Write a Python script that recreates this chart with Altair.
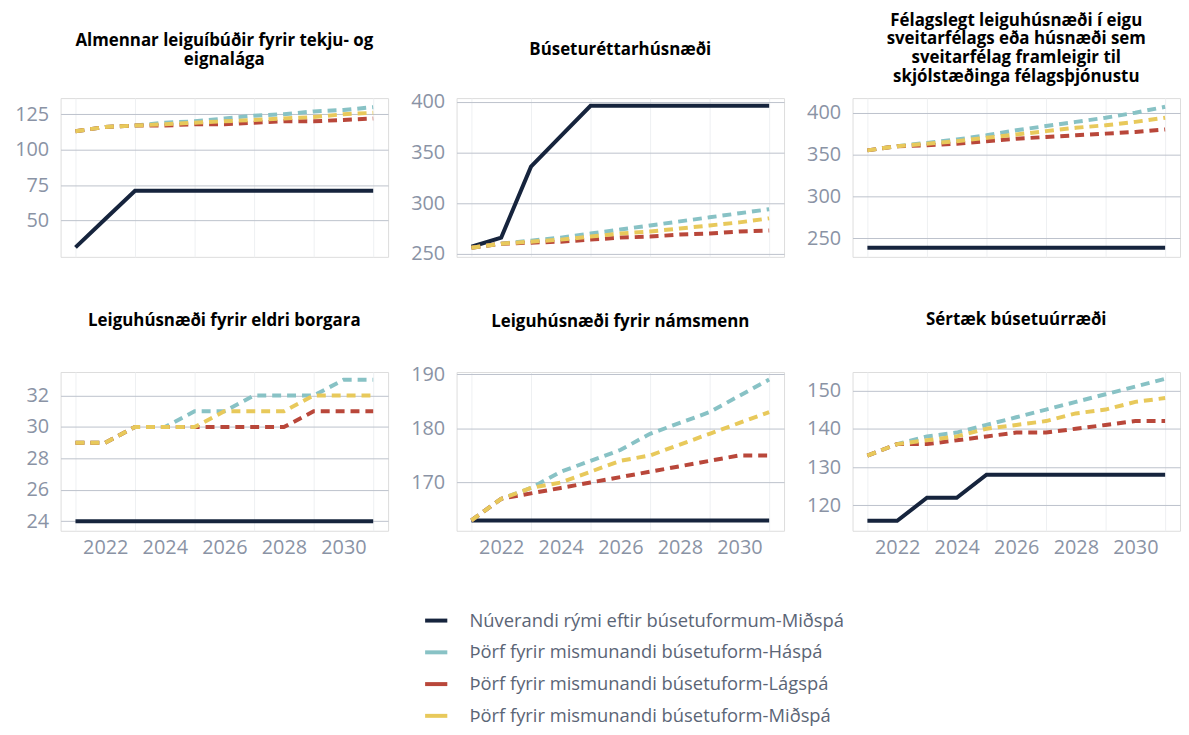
import altair as alt
import pandas as pd

years = list(range(2021, 2032))
series = [
    "Núverandi rými eftir búsetuformum-Miðspá",
    "Þörf fyrir mismunandi búsetuform-Háspá",
    "Þörf fyrir mismunandi búsetuform-Lágspá",
    "Þörf fyrir mismunandi búsetuform-Miðspá",
]
colors = ["#16243d", "#88c2c5", "#b9473a", "#e8c95b"]

titles = [
    ["Almennar leiguíbúðir fyrir tekju- og", "eignalága"],
    ["Búseturéttarhúsnæði"],
    ["Félagslegt leiguhúsnæði í eigu", "sveitarfélags eða húsnæði sem",
     "sveitarfélag framleigir til", "skjólstæðinga félagsþjónustu"],
    ["Leiguhúsnæði fyrir eldri borgara"],
    ["Leiguhúsnæði fyrir námsmenn"],
    ["Sértæk búsetuúrræði"],
]
title_offsets = [21, 25, 4, 34, 26, 34]

# Panel 1: Almennar leiguíbúðir
p1_nuverandi = [31, 51, 71, 71, 71, 71, 71, 71, 71, 71, 71]
p1_haspa = [113, 116, 117, 119, 120, 122, 124, 125, 127, 128, 130]
p1_lagspa = [113, 116, 117, 117, 118, 118, 119, 120, 120, 121, 122]
p1_midspa = [113, 116, 117, 118, 119, 120, 121, 122, 123, 125, 126]

# Panel 2: Búseturéttarhúsnæði
p2_nuverandi = [257, 266, 336, 366, 396, 396, 396, 396, 396, 396, 396]
p2_haspa = [256, 260, 263, 266, 270, 274, 278, 282, 286, 290, 294]
p2_lagspa = [256, 260, 261, 262, 264, 266, 267, 269, 270, 272, 273]
p2_midspa = [256, 260, 262, 264, 267, 270, 272, 275, 278, 281, 285]

# Panel 3: Félagslegt leiguhúsnæði
p3_nuverandi = [239, 239, 239, 239, 239, 239, 239, 239, 239, 239, 239]
p3_haspa = [355, 360, 364, 368, 373, 379, 384, 389, 394, 400, 407]
p3_lagspa = [355, 360, 361, 363, 366, 369, 371, 373, 375, 377, 380]
p3_midspa = [355, 360, 363, 366, 370, 374, 378, 382, 385, 389, 394]

# Panel 4: Eldri borgarar
p4_nuverandi = [24, 24, 24, 24, 24, 24, 24, 24, 24, 24, 24]
p4_haspa = [29, 29, 30, 30, 31, 31, 32, 32, 32, 33, 33]
p4_lagspa = [29, 29, 30, 30, 30, 30, 30, 30, 31, 31, 31]
p4_midspa = [29, 29, 30, 30, 30, 31, 31, 31, 32, 32, 32]

# Panel 5: Námsmenn
p5_nuverandi = [163, 163, 163, 163, 163, 163, 163, 163, 163, 163, 163]
p5_haspa = [163, 167, 169, 172, 174, 176, 179, 181, 183, 186, 189]
p5_lagspa = [163, 167, 168, 169, 170, 171, 172, 173, 174, 175, 175]
p5_midspa = [163, 167, 169, 170, 172, 174, 175, 177, 179, 181, 183]

# Panel 6: Sértæk búsetuúrræði
p6_nuverandi = [116, 116, 122, 122, 128, 128, 128, 128, 128, 128, 128]
p6_haspa = [133, 136, 138, 139, 141, 143, 145, 147, 149, 151, 153]
p6_lagspa = [133, 136, 136, 137, 138, 139, 139, 140, 141, 142, 142]
p6_midspa = [133, 136, 137, 138, 140, 141, 142, 144, 145, 147, 148]

y_ticks = [
    [50, 75, 100, 125],
    [250, 300, 350, 400],
    [250, 300, 350, 400],
    [24, 26, 28, 30, 32],
    [170, 180, 190],
    [120, 130, 140, 150],
]
y_domains = [
    [24.3, 136.4],
    [247, 403.6],
    [228, 417.4],
    [23.4, 33.5],
    [161.1, 190.4],
    [113.4, 154.8],
]

panel_data = [
    [p1_nuverandi, p1_haspa, p1_lagspa, p1_midspa],
    [p2_nuverandi, p2_haspa, p2_lagspa, p2_midspa],
    [p3_nuverandi, p3_haspa, p3_lagspa, p3_midspa],
    [p4_nuverandi, p4_haspa, p4_lagspa, p4_midspa],
    [p5_nuverandi, p5_haspa, p5_lagspa, p5_midspa],
    [p6_nuverandi, p6_haspa, p6_lagspa, p6_midspa],
]

FONT = "Open Sans"
W, H = 330, 160

color_scale = alt.Scale(domain=series, range=colors)
legend = alt.Legend(
    title=None,
    orient="none",
    legendX=365,
    legendY=513,
    direction="vertical",
    symbolType="stroke",
    symbolStrokeWidth=4,
    symbolSize=500,
    labelFontSize=18.5,
    labelFont=FONT,
    labelColor="#5b6576",
    labelOffset=20,
    rowPadding=9,
    labelLimit=600,
)


def panel(k, show_x):
    rows = []
    for s, vals in zip(series, panel_data[k]):
        for yr, v in zip(years, vals):
            rows.append({"year": yr, "value": v, "series": s})
    df = pd.DataFrame(rows)
    x = alt.X(
        "year:Q",
        scale=alt.Scale(domain=[2020.5, 2031.5], nice=False, zero=False),
        axis=alt.Axis(
            values=years,
            format="d",
            labelExpr="datum.value % 2 == 0 ? datum.label : ''",
            labels=show_x,
            ticks=False,
            domain=False,
            title=None,
            grid=True,
            gridColor="#eef0f2",
            gridOpacity={"condition": {"test": "datum.value % 2 == 1", "value": 1}, "value": 0},
            labelPadding=7,
            labelFontSize=20,
            labelFont=FONT,
            labelColor="#8a93a5",
        ),
    )
    y = alt.Y(
        "value:Q",
        scale=alt.Scale(domain=y_domains[k], nice=False, zero=False),
        axis=alt.Axis(
            values=y_ticks[k],
            title=None,
            domain=False,
            ticks=False,
            labelPadding=12,
            gridColor="#bcc2cc",
            labelFontSize=20,
            labelFont=FONT,
            labelColor="#8a93a5",
        ),
    )
    base = alt.Chart(df)
    solid = base.transform_filter(alt.datum.series == series[0]).mark_line(
        strokeWidth=4
    ).encode(x=x, y=y, color=alt.Color("series:N", scale=color_scale, legend=legend))
    dashed = base.transform_filter(alt.datum.series != series[0]).mark_line(
        strokeWidth=4, strokeDash=[9, 6]
    ).encode(x=x, y=y, color=alt.Color("series:N", scale=color_scale, legend=None))
    return alt.layer(solid, dashed).properties(
        width=W,
        height=H,
        title=alt.TitleParams(
            text=titles[k],
            anchor="middle",
            baseline="middle",
            offset=title_offsets[k],
            fontSize=17,
            font=FONT,
            fontWeight="bold",
            color="#000000",
            lineHeight=19,
        ),
    )


charts = [panel(k, k >= 3) for k in range(6)]

chart = alt.concat(
    *charts, columns=3, bounds="flush", spacing={"row": 116, "column": 69}
).properties(
    padding={"left": 6, "top": 0, "right": 0, "bottom": 5}
).configure_view(stroke=None).configure(font=FONT)

chart.save("out.html", embed_options={"renderer": "svg", "actions": False})
